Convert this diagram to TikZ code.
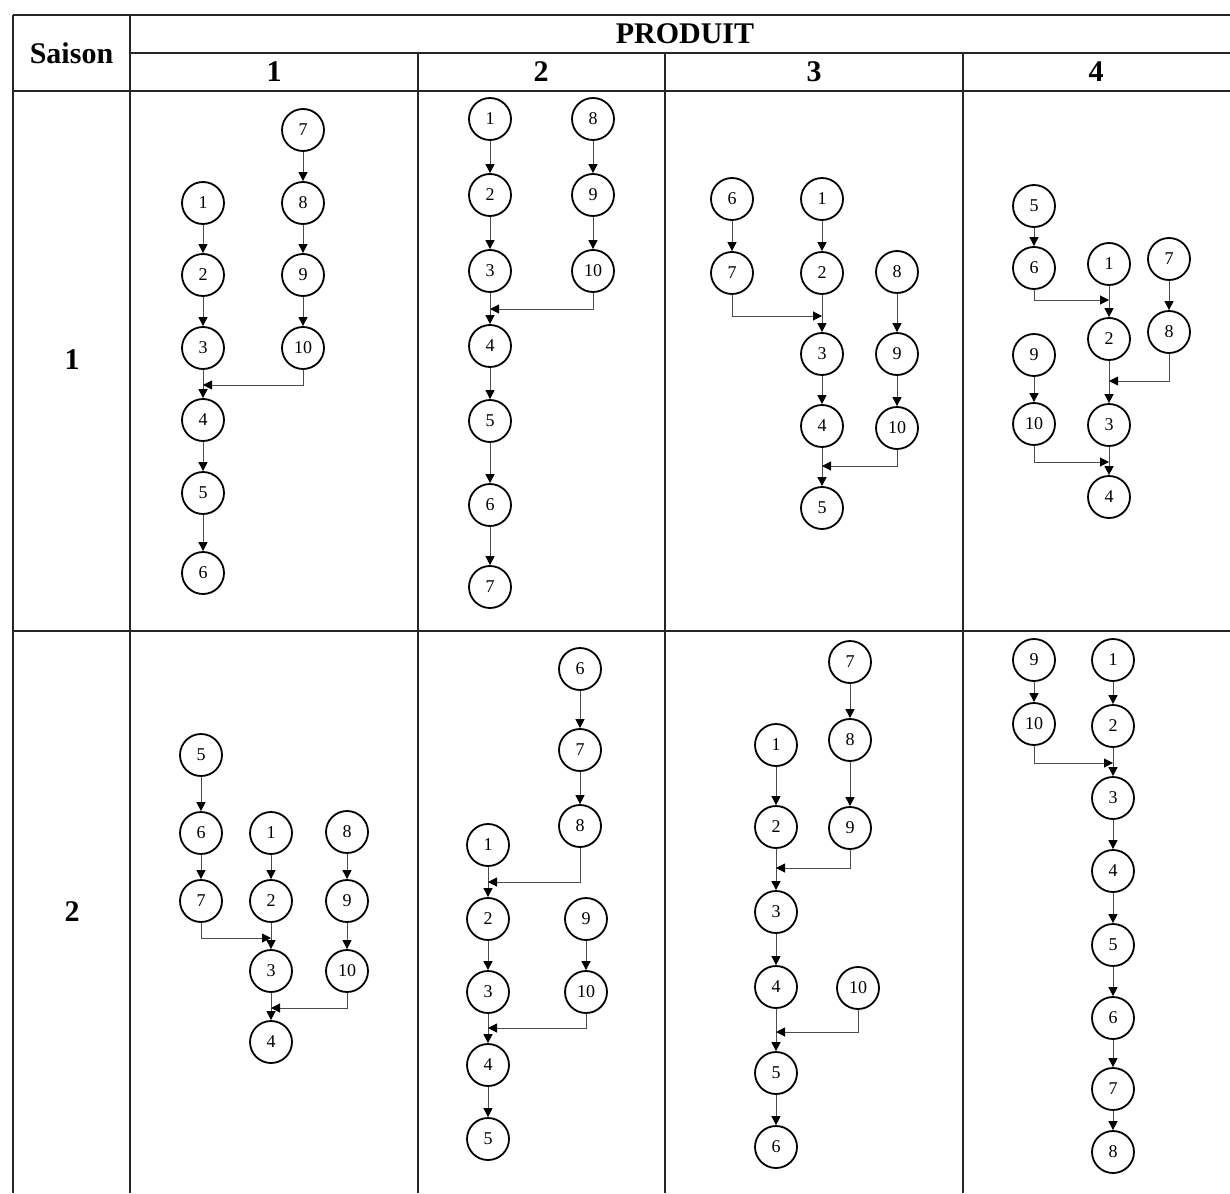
\documentclass[tikz,border=0pt]{standalone}
\usepackage{fontspec}
\setmainfont{Liberation Serif}
\usetikzlibrary{arrows.meta}
\newcommand\MyNode[4]{\node[st] (#1) at (#2,#3) {#4};}
\begin{document}
\begin{tikzpicture}[x=1pt,y=-1pt,
  tbl/.style={line width=1.6pt, black!85},
  st/.style={circle, draw, line width=1.8pt, minimum size=42pt, inner sep=0pt, font=\fontsize{18}{18}\selectfont},
  conn/.style={line width=1pt, black!70, -{Triangle[length=9pt,width=9pt,color=black]}},
  hd/.style={font=\fontsize{30}{30}\selectfont\bfseries, inner sep=0pt}]
\useasboundingbox (0,0) rectangle (1230,1193);
% table grid
\draw[tbl] (13,15) -- (1230,15);
\draw[tbl] (130,53) -- (1230,53);
\draw[tbl] (13,91) -- (1230,91);
\draw[tbl] (13,631) -- (1230,631);
\draw[tbl] (13,15) -- (13,1193);
\draw[tbl] (130,15) -- (130,1193);
\draw[tbl] (418,53) -- (418,1193);
\draw[tbl] (665,53) -- (665,1193);
\draw[tbl] (963,53) -- (963,1193);
% headers
\node[hd] (saison) at (71.5,53) {Saison};
\node[hd] (produit) at (685,34) {PRODUIT};
\node[hd] (h1) at (274,72) {1};
\node[hd] (h2) at (541,72) {2};
\node[hd] (h3) at (814,72) {3};
\node[hd] (h4) at (1096,72) {4};
\node[hd] (s1) at (72,360) {1};
\node[hd] (s2) at (72,912) {2};
% ---------- R1C1
\MyNode{a1}{203}{203}{1}
\MyNode{a2}{203}{275}{2}
\MyNode{a3}{203}{348}{3}
\MyNode{a4}{203}{420}{4}
\MyNode{a5}{203}{493}{5}
\MyNode{a6}{203}{573}{6}
\MyNode{a7}{303}{130}{7}
\MyNode{a8}{303}{203}{8}
\MyNode{a9}{303}{275}{9}
\MyNode{a10}{303}{348}{10}
\coordinate (aj) at (203,385);
\draw[conn] (a1) -- (a2);
\draw[conn] (a2) -- (a3);
\draw[conn] (a3) -- (a4);
\draw[conn] (a4) -- (a5);
\draw[conn] (a5) -- (a6);
\draw[conn] (a7) -- (a8);
\draw[conn] (a8) -- (a9);
\draw[conn] (a9) -- (a10);
\draw[conn] (a10.south) |- (aj);
% ---------- R1C2
\MyNode{b1}{490}{119}{1}
\MyNode{b2}{490}{195}{2}
\MyNode{b3}{490}{271}{3}
\MyNode{b4}{490}{346}{4}
\MyNode{b5}{490}{421}{5}
\MyNode{b6}{490}{505}{6}
\MyNode{b7}{490}{587}{7}
\MyNode{b8}{593}{119}{8}
\MyNode{b9}{593}{195}{9}
\MyNode{b10}{593}{271}{10}
\coordinate (bj) at (490,309);
\draw[conn] (b1) -- (b2);
\draw[conn] (b2) -- (b3);
\draw[conn] (b3) -- (b4);
\draw[conn] (b4) -- (b5);
\draw[conn] (b5) -- (b6);
\draw[conn] (b6) -- (b7);
\draw[conn] (b8) -- (b9);
\draw[conn] (b9) -- (b10);
\draw[conn] (b10.south) |- (bj);
% ---------- R1C3
\MyNode{c6}{732}{199}{6}
\MyNode{c7}{732}{273}{7}
\MyNode{c1}{822}{199}{1}
\MyNode{c2}{822}{273}{2}
\MyNode{c3}{822}{354}{3}
\MyNode{c4}{822}{426}{4}
\MyNode{c5}{822}{508}{5}
\MyNode{c8}{897}{272}{8}
\MyNode{c9}{897}{354}{9}
\MyNode{c10}{897}{428}{10}
\coordinate (cj1) at (822,316);
\coordinate (cj2) at (822,466);
\draw[conn] (c6) -- (c7);
\draw[conn] (c1) -- (c2);
\draw[conn] (c2) -- (c3);
\draw[conn] (c3) -- (c4);
\draw[conn] (c4) -- (c5);
\draw[conn] (c8) -- (c9);
\draw[conn] (c9) -- (c10);
\draw[conn] (c7.south) |- (cj1);
\draw[conn] (c10.south) |- (cj2);
% ---------- R1C4
\MyNode{d5}{1034}{206}{5}
\MyNode{d6}{1034}{268}{6}
\MyNode{d9}{1034}{355}{9}
\MyNode{d10}{1034}{424}{10}
\MyNode{d1}{1109}{264}{1}
\MyNode{d2}{1109}{339}{2}
\MyNode{d3}{1109}{425}{3}
\MyNode{d4}{1109}{497}{4}
\MyNode{d7}{1169}{259}{7}
\MyNode{d8}{1169}{332}{8}
\coordinate (dj1) at (1109,300);
\coordinate (dj2) at (1109,381);
\coordinate (dj3) at (1109,462);
\draw[conn] (d5) -- (d6);
\draw[conn] (d9) -- (d10);
\draw[conn] (d1) -- (d2);
\draw[conn] (d2) -- (d3);
\draw[conn] (d3) -- (d4);
\draw[conn] (d7) -- (d8);
\draw[conn] (d6.south) |- (dj1);
\draw[conn] (d8.south) |- (dj2);
\draw[conn] (d10.south) |- (dj3);
% ---------- R2C1
\MyNode{e5}{201}{755}{5}
\MyNode{e6}{201}{833}{6}
\MyNode{e7}{201}{901}{7}
\MyNode{e1}{271}{833}{1}
\MyNode{e2}{271}{901}{2}
\MyNode{e3}{271}{971}{3}
\MyNode{e4}{271}{1042}{4}
\MyNode{e8}{347}{832}{8}
\MyNode{e9}{347}{901}{9}
\MyNode{e10}{347}{971}{10}
\coordinate (ej1) at (271,938);
\coordinate (ej2) at (271,1008);
\draw[conn] (e5) -- (e6);
\draw[conn] (e6) -- (e7);
\draw[conn] (e1) -- (e2);
\draw[conn] (e2) -- (e3);
\draw[conn] (e3) -- (e4);
\draw[conn] (e8) -- (e9);
\draw[conn] (e9) -- (e10);
\draw[conn] (e7.south) |- (ej1);
\draw[conn] (e10.south) |- (ej2);
% ---------- R2C2
\MyNode{f6}{580}{669}{6}
\MyNode{f7}{580}{750}{7}
\MyNode{f8}{580}{826}{8}
\MyNode{f1}{488}{845}{1}
\MyNode{f2}{488}{919}{2}
\MyNode{f3}{488}{992}{3}
\MyNode{f4}{488}{1065}{4}
\MyNode{f5}{488}{1139}{5}
\MyNode{f9}{586}{919}{9}
\MyNode{f10}{586}{992}{10}
\coordinate (fj1) at (488,882);
\coordinate (fj2) at (488,1028);
\draw[conn] (f6) -- (f7);
\draw[conn] (f7) -- (f8);
\draw[conn] (f1) -- (f2);
\draw[conn] (f2) -- (f3);
\draw[conn] (f3) -- (f4);
\draw[conn] (f4) -- (f5);
\draw[conn] (f9) -- (f10);
\draw[conn] (f8.south) |- (fj1);
\draw[conn] (f10.south) |- (fj2);
% ---------- R2C3
\MyNode{g7}{850}{662}{7}
\MyNode{g8}{850}{740}{8}
\MyNode{g9}{850}{828}{9}
\MyNode{g1}{776}{745}{1}
\MyNode{g2}{776}{827}{2}
\MyNode{g3}{776}{912}{3}
\MyNode{g4}{776}{987}{4}
\MyNode{g5}{776}{1073}{5}
\MyNode{g6}{776}{1147}{6}
\MyNode{g10}{858}{988}{10}
\coordinate (gj1) at (776,868);
\coordinate (gj2) at (776,1032);
\draw[conn] (g7) -- (g8);
\draw[conn] (g8) -- (g9);
\draw[conn] (g1) -- (g2);
\draw[conn] (g2) -- (g3);
\draw[conn] (g3) -- (g4);
\draw[conn] (g4) -- (g5);
\draw[conn] (g5) -- (g6);
\draw[conn] (g9.south) |- (gj1);
\draw[conn] (g10.south) |- (gj2);
% ---------- R2C4
\MyNode{h9}{1034}{660}{9}
\MyNode{h10}{1034}{724}{10}
\MyNode{k1}{1113}{660}{1}
\MyNode{k2}{1113}{726}{2}
\MyNode{k3}{1113}{798}{3}
\MyNode{k4}{1113}{871}{4}
\MyNode{k5}{1113}{945}{5}
\MyNode{k6}{1113}{1018}{6}
\MyNode{k7}{1113}{1089}{7}
\MyNode{k8}{1113}{1152}{8}
\coordinate (kj) at (1113,763);
\draw[conn] (h9) -- (h10);
\draw[conn] (k1) -- (k2);
\draw[conn] (k2) -- (k3);
\draw[conn] (k3) -- (k4);
\draw[conn] (k4) -- (k5);
\draw[conn] (k5) -- (k6);
\draw[conn] (k6) -- (k7);
\draw[conn] (k7) -- (k8);
\draw[conn] (h10.south) |- (kj);
\end{tikzpicture}
\end{document}
